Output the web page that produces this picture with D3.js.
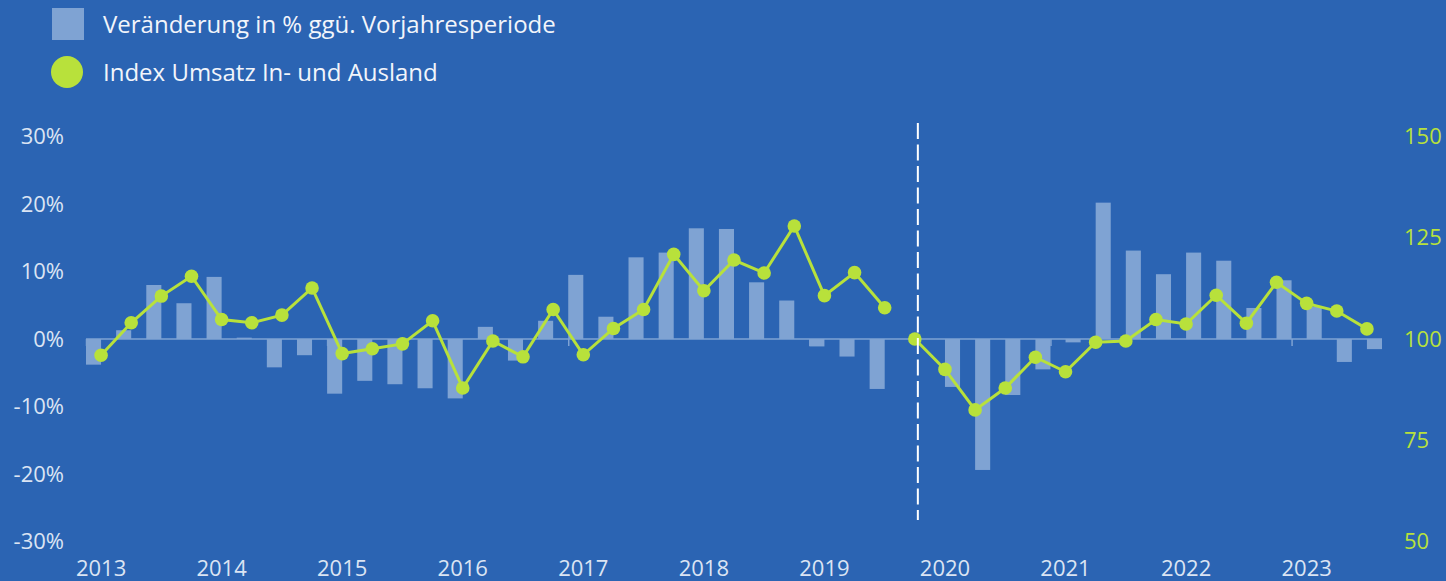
<!DOCTYPE html>
<meta charset="utf-8">
<style>
body { margin: 0; background: #2b64b3; }
svg { display: block; font-family: "Open Sans", sans-serif; }
.tick-label { fill: #dbe4f3; font-size: 22px; }
.right-label { fill: #b8e13b; font-size: 22px; }
.legend text { fill: #f2f5fb; font-size: 24px; }
</style>
<svg></svg>
<script src="https://cdn.jsdelivr.net/npm/d3@7"></script>
<script>
// Quartale 2013 Q1 bis 2023 Q3
var quartale = [
  "2013Q1","2013Q2","2013Q3","2013Q4","2014Q1","2014Q2","2014Q3","2014Q4",
  "2015Q1","2015Q2","2015Q3","2015Q4","2016Q1","2016Q2","2016Q3","2016Q4",
  "2017Q1","2017Q2","2017Q3","2017Q4","2018Q1","2018Q2","2018Q3","2018Q4",
  "2019Q1","2019Q2","2019Q3","2019Q4","2020Q1","2020Q2","2020Q3","2020Q4",
  "2021Q1","2021Q2","2021Q3","2021Q4","2022Q1","2022Q2","2022Q3","2022Q4",
  "2023Q1","2023Q2","2023Q3"
];
var jahre = ["2013","2014","2015","2016","2017","2018","2019","2020","2021","2022","2023"];

// alte Reihe: 2013Q1 - 2019Q3
var veraenderungAlt = [-3.8, 1.3, 8.0, 5.3, 9.2, 0.2, -4.2, -2.4,
  -8.1, -6.2, -6.7, -7.3, -8.8, 1.8, -3.2, 2.7,
  9.5, 3.3, 12.1, 12.8, 16.4, 16.3, 8.4, 5.7,
  -1.1, -2.6, -7.4];
var indexAlt = [96.0, 104.0, 110.6, 115.5, 104.8, 104.0, 105.9, 112.6,
  96.4, 97.6, 98.8, 104.5, 87.9, 99.5, 95.6, 107.3,
  96.1, 102.6, 107.3, 120.9, 111.9, 119.5, 116.3, 127.9,
  110.7, 116.4, 107.7];

// neue Reihe: 2019Q4 - 2023Q3 (2019Q4 = 100, kein Balken)
var veraenderungNeu = [null, -7.1, -19.4, -8.3, -4.5, -0.5, 20.2, 13.1, 9.6,
  12.8, 11.6, 4.6, 8.7, 4.8, -3.4, -1.5];
var indexNeu = [100, 92.5, 82.5, 87.9, 95.5, 91.9, 99.2, 99.5, 104.8,
  103.7, 110.8, 103.9, 114.0, 108.8, 106.9, 102.5];

var prozentTicks = [30, 20, 10, 0, -10, -20, -30];
var indexTicks = [150, 125, 100, 75, 50];
var bruch = "2019Q4";

var width = 1446, height = 581;
var svg = d3.select("svg").attr("width", width).attr("height", height);

svg.append("rect").attr("width", width).attr("height", height).attr("fill", "#2b64b3");

var x = d3.scaleBand().domain(quartale).range([86, 1382]).padding(0),
    xs = d3.scaleBand().domain(["alt", "neu"]).range([0, x.bandwidth()]),
    y = d3.scaleLinear().domain([-30, 30]).range([541.5, 136.5]),
    y2 = d3.scaleLinear().domain([50, 150]).range([541.5, 136.5]);

var nAlt = veraenderungAlt.length;
var dataAlt = veraenderungAlt.map(function(v, i) {
  return {q: quartale[i], v: v, idx: indexAlt[i], s: "alt"};
});
var dataNeu = veraenderungNeu.map(function(v, i) {
  return {q: quartale[nAlt + i], v: v, idx: indexNeu[i], s: "neu"};
});

function cx(d) { return x(d.q) + x.bandwidth() / 2; }

// Nulllinie
var g = svg.append("g");
g.append("line")
    .attr("x1", x.range()[0]).attr("x2", x.range()[1])
    .attr("y1", y(0)).attr("y2", y(0))
    .attr("stroke", "#7fa3d3").attr("stroke-width", 1.5);

// kleine Achsenstriche alle 2 Jahre
g.selectAll(".xtick")
  .data(quartale.filter(function(q, i) { return i % 8 === 0; }))
  .enter().append("line")
    .attr("x1", function(q) { return x(q) + 0.5; })
    .attr("x2", function(q) { return x(q) + 0.5; })
    .attr("y1", y(0)).attr("y2", y(0) + 7)
    .attr("stroke", "#7fa3d3").attr("stroke-width", 1.5);

// Balken
g.selectAll(".bar")
  .data(dataAlt.concat(dataNeu).filter(function(d) { return d.v !== null; }))
  .enter().append("rect")
    .attr("fill", "#7fa3d3")
    .attr("x", function(d) { return x(d.q) + xs(d.s); })
    .attr("width", xs.bandwidth())
    .attr("y", function(d) { return y(Math.max(0, d.v)); })
    .attr("height", function(d) { return Math.abs(y(d.v) - y(0)); });

// Index-Linien
var line = d3.line().x(cx).y(function(d) { return y2(d.idx); });
[dataAlt, dataNeu].forEach(function(reihe) {
  g.append("path")
      .datum(reihe)
      .attr("fill", "none")
      .attr("stroke", "#b8e13b")
      .attr("stroke-width", 3)
      .attr("d", line);
  g.selectAll(null)
    .data(reihe)
    .enter().append("circle")
      .attr("cx", cx)
      .attr("cy", function(d) { return y2(d.idx); })
      .attr("r", 6.8)
      .attr("fill", "#b8e13b");
});

// gestrichelte Trennlinie
var xBruch = x(bruch) + x.bandwidth() * 0.6;
g.append("line")
    .attr("x1", xBruch).attr("x2", xBruch)
    .attr("y1", y(32)).attr("y2", y(-26.8))
    .attr("stroke", "#ffffff").attr("stroke-width", 2)
    .attr("stroke-dasharray", "16,5.5");

// linke Achse
svg.append("g").selectAll("text")
  .data(prozentTicks)
  .enter().append("text")
    .attr("class", "tick-label")
    .attr("x", 64)
    .attr("y", function(d) { return y(d); })
    .attr("dy", "0.35em")
    .attr("text-anchor", "end")
    .text(function(d) { return d + "%"; });

// rechte Achse
svg.append("g").selectAll("text")
  .data(indexTicks)
  .enter().append("text")
    .attr("class", "right-label")
    .attr("x", 1404)
    .attr("y", function(d) { return y2(d); })
    .attr("dy", "0.35em")
    .text(function(d) { return d; });

// Jahre
svg.append("g").selectAll("text")
  .data(jahre)
  .enter().append("text")
    .attr("class", "tick-label")
    .attr("x", function(j) { return x(j + "Q1") + x.bandwidth() / 2; })
    .attr("y", 576)
    .attr("text-anchor", "middle")
    .text(function(j) { return j; });

// Legende
var legend = svg.append("g").attr("class", "legend");
legend.append("rect")
    .attr("x", 52).attr("y", 8).attr("width", 32).attr("height", 32)
    .attr("fill", "#7fa3d3");
legend.append("text").attr("x", 103).attr("y", 33)
    .text("Veränderung in % ggü. Vorjahresperiode");
legend.append("circle")
    .attr("cx", 67).attr("cy", 72).attr("r", 16)
    .attr("fill", "#b8e13b");
legend.append("text").attr("x", 103).attr("y", 81)
    .text("Index Umsatz In- und Ausland");
</script>
